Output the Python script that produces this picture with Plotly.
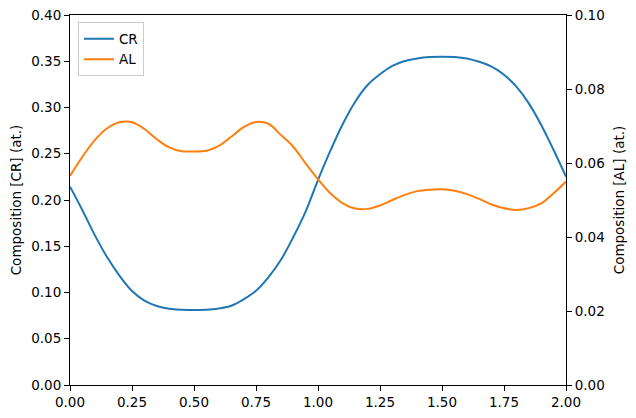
import plotly.graph_objects as go

x_pos = [0.00, 0.05, 0.10, 0.15, 0.20, 0.25, 0.30, 0.35, 0.40, 0.45, 0.50,
         0.55, 0.60, 0.65, 0.70, 0.75, 0.80, 0.85, 0.90, 0.95, 1.00,
         1.05, 1.10, 1.15, 1.20, 1.25, 1.30, 1.35, 1.40, 1.45, 1.50,
         1.55, 1.60, 1.65, 1.70, 1.75, 1.80, 1.85, 1.90, 1.95, 2.00]

cr_values = [0.2144, 0.189, 0.162, 0.138, 0.118, 0.1016, 0.0912, 0.0854, 0.0825, 0.0814, 0.0810,
             0.0814, 0.0828, 0.0857, 0.0926, 0.1019, 0.1164, 0.1351, 0.1597, 0.1874, 0.2216,
             0.2533, 0.2822, 0.3063, 0.3243, 0.3359, 0.3449, 0.3502, 0.3530, 0.3546, 0.3550,
             0.3546, 0.3530, 0.3494, 0.3441, 0.3355, 0.3225, 0.3045, 0.2811, 0.2540, 0.2252]

al_values = [0.0565, 0.0617, 0.0662, 0.0694, 0.0710, 0.0710, 0.0692, 0.0664, 0.0642, 0.0632, 0.0631,
             0.0633, 0.0646, 0.0671, 0.0697, 0.0711, 0.0706, 0.0676, 0.0644, 0.0599, 0.0556,
             0.0518, 0.0491, 0.0477, 0.0476, 0.0485, 0.0500, 0.0514, 0.0524, 0.0528, 0.0529,
             0.0525, 0.0516, 0.0503, 0.0488, 0.0478, 0.0473, 0.0478, 0.0491, 0.0518, 0.0550]

x_ticks = [0.0, 0.25, 0.5, 0.75, 1.0, 1.25, 1.5, 1.75, 2.0]
y_ticks = [0.0, 0.05, 0.10, 0.15, 0.20, 0.25, 0.30, 0.35, 0.40]
y2_ticks = [0.0, 0.02, 0.04, 0.06, 0.08, 0.10]

font = dict(family="DejaVu Sans", size=13.5, color="black")

fig = go.Figure()
fig.add_trace(go.Scatter(x=x_pos, y=cr_values, name="CR", mode="lines",
                         line=dict(color="#1f77b4", width=2, shape="spline", smoothing=1.0)))
fig.add_trace(go.Scatter(x=x_pos, y=al_values, name="AL", mode="lines", yaxis="y2",
                         line=dict(color="#ff7f0e", width=2, shape="spline", smoothing=1.0)))

axis_common = dict(showline=True, linecolor="black", linewidth=1, ticks="outside",
                   ticklen=5, tickwidth=1, tickcolor="black", showgrid=False,
                   zeroline=False, tickfont=font, automargin=False,
                   ticklabeloverflow="allow")

fig.update_layout(
    width=620, height=402,
    margin=dict(l=62, r=62, t=7, b=25, autoexpand=False),
    paper_bgcolor="white", plot_bgcolor="white",
    font=font,
    xaxis=dict(range=[0, 2], tickvals=x_ticks, tickformat=".2f", mirror=True, **axis_common),
    yaxis=dict(range=[0, 0.40], tickvals=y_ticks, tickformat=".2f",
               title=dict(text="Composition [CR] (at.)", font=font, standoff=10), **axis_common),
    yaxis2=dict(range=[0, 0.10], tickvals=y2_ticks, tickformat=".2f", overlaying="y", side="right",
                title=dict(text="Composition [AL] (at.)", font=font, standoff=10), **axis_common),
    legend=dict(x=0.016, y=0.98, xanchor="left", yanchor="top", bgcolor="white",
                bordercolor="#cccccc", borderwidth=1, font=font, tracegroupgap=0),
    showlegend=True,
)

fig.write_html("out.html")
